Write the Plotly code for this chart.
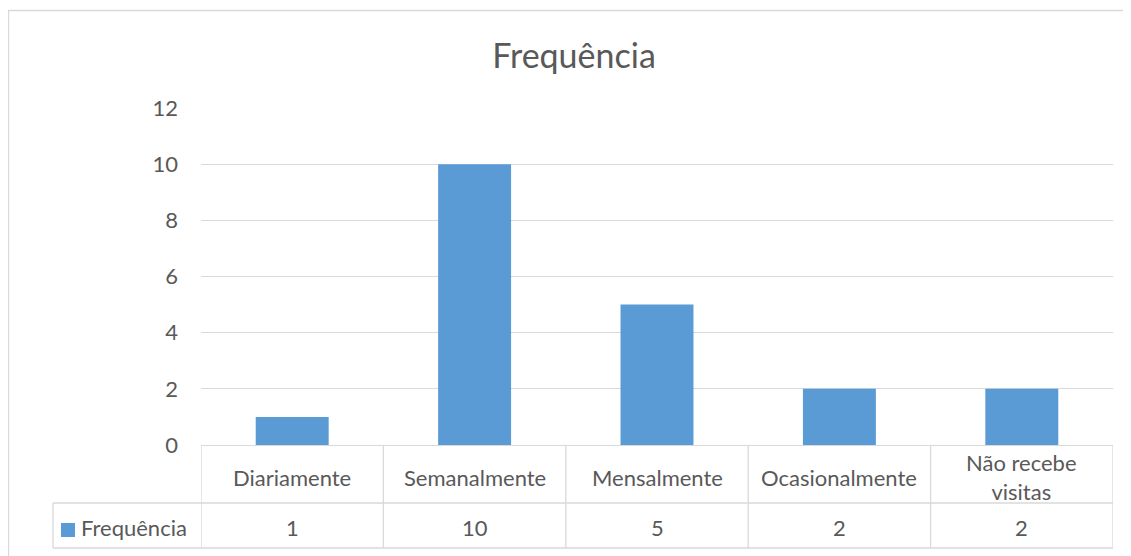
import plotly.graph_objects as go

categories = ["Diariamente", "Semanalmente", "Mensalmente", "Ocasionalmente", "Não recebe<br>visitas"]
values = [1, 10, 5, 2, 2]
series_name = "Frequência"
y_ticks = [0, 2, 4, 6, 8, 10, 12]

# the page body adds an 8px margin; work in reference pixels minus that offset
OFF = 8
W, H = 1131 - OFF, 556 - OFF
L, R, T, B = 201 - OFF, 1131 - 1113, 108 - OFF, 556 - 445
PW = W - L - R
PH = H - T - B

BAR = "#5B9BD5"
GRID = "#D9D9D9"
TXT = "#595959"
FONT = "Lato"
FS = 22

def px_x(p):
    return (p - OFF - L) / PW

def px_y(p):
    return (H - B - (p - OFF)) / PH

xs = list(range(len(categories)))

fig = go.Figure()
fig.add_trace(go.Bar(x=xs, y=values, marker=dict(color=BAR, line=dict(width=0)),
                     width=0.4, name=series_name, showlegend=False, hoverinfo="skip"))

shapes = []
# outer chart frame
shapes.append(dict(type="rect", xref="paper", yref="paper",
                   x0=px_x(8.5), x1=px_x(1150), y0=px_y(580), y1=px_y(10.5),
                   line=dict(color=GRID, width=1.3), fillcolor="rgba(0,0,0,0)", layer="below"))
# table lines
row_top, row_mid, row_bot = 445, 503, 548
for i in range(len(categories) + 1):
    shapes.append(dict(type="line", xref="x", yref="paper", x0=i - 0.5, x1=i - 0.5,
                       y0=px_y(row_top), y1=px_y(row_bot), line=dict(color=GRID, width=1.3)))
for yy in (row_mid, row_bot):
    shapes.append(dict(type="line", xref="paper", yref="paper", x0=px_x(53), x1=1,
                       y0=px_y(yy), y1=px_y(yy), line=dict(color=GRID, width=1.3)))
shapes.append(dict(type="line", xref="paper", yref="paper", x0=px_x(53), x1=px_x(53),
                   y0=px_y(row_mid), y1=px_y(row_bot), line=dict(color=GRID, width=1.3)))
# legend key
shapes.append(dict(type="rect", xref="paper", yref="paper", x0=px_x(61), x1=px_x(75),
                   y0=px_y(537), y1=px_y(523), fillcolor=BAR, line=dict(width=0)))

annotations = []
for i, (c, v) in enumerate(zip(categories, values)):
    annotations.append(dict(x=i, xref="x", y=px_y(477), yref="paper", text=c,
                            showarrow=False, xanchor="center", yanchor="middle",
                            font=dict(family=FONT, size=FS, color=TXT)))
    annotations.append(dict(x=i, xref="x", y=px_y(527), yref="paper", text=str(v),
                            showarrow=False, xanchor="center", yanchor="middle",
                            font=dict(family=FONT, size=FS, color=TXT)))
annotations.append(dict(x=px_x(79), xref="paper", y=px_y(527), yref="paper", text=series_name,
                        showarrow=False, xanchor="left", yanchor="middle",
                        font=dict(family=FONT, size=FS, color=TXT)))

fig.update_layout(
    width=W, height=H,
    margin=dict(l=L, r=R, t=T, b=B),
    paper_bgcolor="white", plot_bgcolor="white",
    title=dict(text="Frequência", x=(574 - OFF) / W, xanchor="center",
               y=1 - (56 - OFF) / H, yanchor="middle",
               font=dict(family=FONT, size=34, color=TXT)),
    xaxis=dict(range=[-0.5, len(categories) - 0.5], showticklabels=False, showgrid=False,
               zeroline=False, showline=False, fixedrange=True),
    yaxis=dict(range=[0, 12], tickvals=y_ticks, showgrid=True, gridcolor=GRID, gridwidth=1.3,
               zeroline=True, zerolinecolor=GRID, zerolinewidth=1.3, showline=False,
               ticks="", ticklabelstandoff=22,
               tickfont=dict(family=FONT, size=FS, color=TXT)),
    shapes=shapes, annotations=annotations,
    bargap=0.6,
)

fig.write_html("out.html")
